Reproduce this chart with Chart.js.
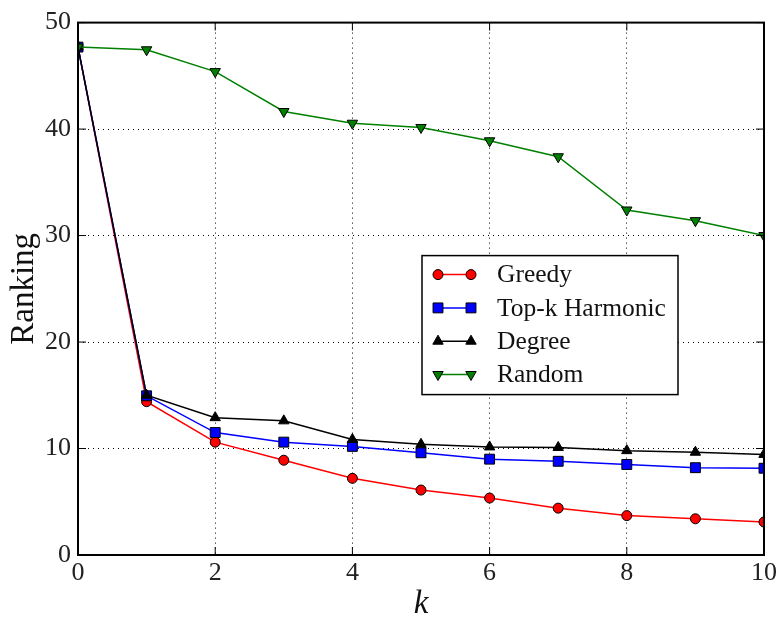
<!DOCTYPE html>
<html>
<head>
<meta charset="utf-8">
<script src="https://cdn.jsdelivr.net/npm/chart.js@4.4.1/dist/chart.umd.min.js"></script>
<style>
html,body{margin:0;padding:0;background:#fff;}
#wrap{width:780px;height:621px;position:relative;}
</style>
</head>
<body>
<div id="wrap"><canvas id="c" width="780" height="621"></canvas></div>
<script>
const kValues = [0,1,2,3,4,5,6,7,8,9,10];
const greedy  = [47.7,14.4,10.6,8.9,7.2,6.1,5.35,4.4,3.7,3.4,3.1];
const topK    = [47.7,14.95,11.5,10.6,10.2,9.6,9.0,8.8,8.5,8.2,8.15];
const degree  = [47.7,15.0,12.9,12.6,10.85,10.4,10.15,10.1,9.8,9.65,9.45];
const random  = [47.7,47.45,45.4,41.65,40.55,40.15,38.9,37.4,32.4,31.4,30.0];
const seriesNames = ['Greedy','Top-k Harmonic','Degree','Random'];
const xTicks = [0,2,4,6,8,10];
const yTicks = [0,10,20,30,40,50];

const FONT = "'Liberation Serif', 'DejaVu Serif', serif";

function pts(arr){ return kValues.map((k,i)=>({x:k,y:arr[i]})); }

const styles = [
  {color:'#ff0000', point:'circle', rot:0, r:5},
  {color:'#0000ff', point:'rect', rot:0, r:7},
  {color:'#000000', point:'triangle', rot:0, r:6},
  {color:'#008000', point:'triangle', rot:180, r:6}
];
const allData = [greedy, topK, degree, random];

const datasets = allData.map((arr,i)=>({
  label: seriesNames[i],
  data: pts(arr),
  borderColor: styles[i].color,
  backgroundColor: styles[i].color,
  pointBackgroundColor: styles[i].color,
  pointBorderColor: '#000',
  pointBorderWidth: 1,
  pointStyle: styles[i].point,
  pointRotation: styles[i].rot,
  pointRadius: styles[i].r,
  borderWidth: 1.5,
  tension: 0,
  clip: 0,
  order: 4 - i
}));

const framePlugin = {
  id:'frame',
  afterDatasetsDraw(chart){
    const {ctx, chartArea:a, scales} = chart;
    ctx.save();
    ctx.strokeStyle='#000'; ctx.lineWidth=1;
    const tl=8;
    xTicks.forEach(v=>{
      const x=scales.x.getPixelForValue(v);
      ctx.beginPath(); ctx.moveTo(x,a.bottom); ctx.lineTo(x,a.bottom-tl); ctx.stroke();
      ctx.beginPath(); ctx.moveTo(x,a.top); ctx.lineTo(x,a.top+tl); ctx.stroke();
    });
    yTicks.forEach(v=>{
      const y=scales.y.getPixelForValue(v);
      ctx.beginPath(); ctx.moveTo(a.left,y); ctx.lineTo(a.left+tl,y); ctx.stroke();
      ctx.beginPath(); ctx.moveTo(a.right,y); ctx.lineTo(a.right-tl,y); ctx.stroke();
    });
    ctx.lineWidth=2;
    ctx.strokeRect(a.left,a.top,a.right-a.left,a.bottom-a.top);
    // legend
    const lx=a.left+344, ly=a.top+233, lw=256, lh=139;
    ctx.fillStyle='#fff';
    ctx.fillRect(lx,ly,lw,lh);
    ctx.lineWidth=1.5;
    ctx.strokeStyle='#000';
    ctx.strokeRect(lx,ly,lw,lh);
    seriesNames.forEach((name,i)=>{
      const y=ly+19+i*33.3;
      const x1=lx+16, x2=lx+49;
      ctx.strokeStyle=styles[i].color; ctx.lineWidth=1.5;
      ctx.beginPath(); ctx.moveTo(x1,y); ctx.lineTo(x2,y); ctx.stroke();
      [x1,x2].forEach(px=>{
        ctx.fillStyle=styles[i].color; ctx.strokeStyle='#000'; ctx.lineWidth=1;
        Chart.helpers.drawPoint(ctx,{pointStyle:styles[i].point,rotation:styles[i].rot,radius:styles[i].r,borderWidth:1},px,y);
      });
      ctx.fillStyle='#111';
      ctx.font="25.5px "+FONT;
      ctx.textBaseline='middle';
      ctx.textAlign='left';
      ctx.fillText(name,lx+75,y+1);
    });
    ctx.restore();
  }
};

new Chart(document.getElementById('c'),{
  type:'line',
  data:{datasets},
  options:{
    responsive:false,
    animation:false,
    layout:{padding:{top:22,right:13,left:0,bottom:0}},
    plugins:{legend:{display:false},tooltip:{enabled:false}},
    scales:{
      x:{
        type:'linear', min:0, max:10,
        afterBuildTicks(s){ s.ticks = xTicks.map(v=>({value:v})); },
        afterFit(s){ s.height=66; },
        ticks:{color:'#222', font:{family:FONT,size:26}, padding:3, maxRotation:0},
        grid:{color:'#000', lineWidth:1, drawTicks:false},
        border:{display:false, dash:[1,4]},
        title:{display:true, text:'k', color:'#111', font:{family:FONT,size:33,style:'italic'}, padding:{top:0,bottom:-3}}
      },
      y:{
        type:'linear', min:0, max:50,
        afterBuildTicks(s){ s.ticks = yTicks.map(v=>({value:v})); },
        afterFit(s){ s.width=78; },
        ticks:{color:'#222', font:{family:FONT,size:26}, padding:7},
        grid:{color:'#000', lineWidth:1, drawTicks:false},
        border:{display:false, dash:[1,4]},
        title:{display:true, text:'Ranking', color:'#111', font:{family:FONT,size:33}, padding:{top:5,bottom:0}}
      }
    }
  },
  plugins:[framePlugin]
});
</script>
</body>
</html>
